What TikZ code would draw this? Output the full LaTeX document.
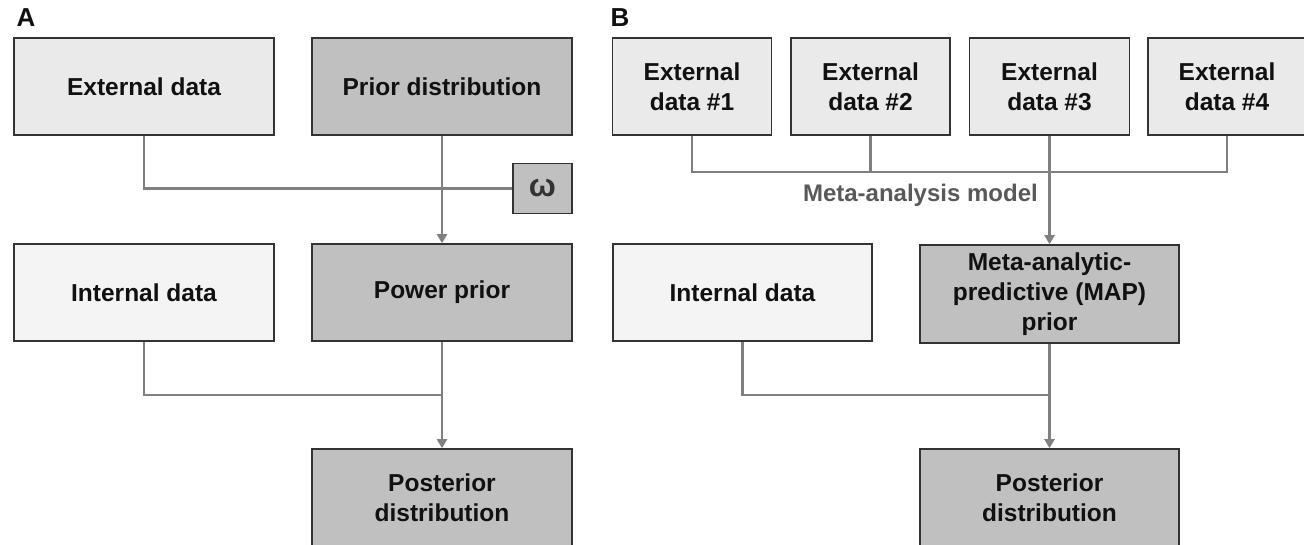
\documentclass[tikz,border=0pt]{standalone}
\usepackage{fontspec}
\setmainfont{Liberation Sans}
\usetikzlibrary{arrows.meta}
\definecolor{lightbox}{HTML}{EAEAEA}
\definecolor{darkbox}{HTML}{C0C0C0}
\definecolor{intbox}{HTML}{F4F4F4}
\definecolor{linegray}{HTML}{808080}
\definecolor{edgegray}{HTML}{333333}
\definecolor{labelgray}{HTML}{595959}
\definecolor{textblack}{HTML}{111111}
\tikzset{
  boxbase/.style={rectangle, draw=edgegray, line width=1.6pt, inner sep=0pt,
    align=center, text=textblack, font=\fontsize{24.5}{30}\selectfont\bfseries},
  extbox/.style={boxbase, fill=lightbox},
  darkbx/.style={boxbase, fill=darkbox},
  intbx/.style={boxbase, fill=intbox},
  conn/.style={draw=linegray, line width=2.8pt},
  arr/.style={conn, -{Triangle[width=10pt,length=9pt]}},
  panellabel/.style={font=\fontsize{26}{26}\selectfont\bfseries, text=textblack, inner sep=0pt}
}
\begin{document}
\begin{tikzpicture}[x=1pt,y=-1pt]
\useasboundingbox[fill=white] (0,0) rectangle (1304,545);
% Panel A
\node[panellabel] (lA) at (26,18) {A};
\node[extbox, minimum width=260pt, minimum height=97pt] (extA) at (144,86.5) {External data};
\node[darkbx, minimum width=260pt, minimum height=97pt] (priorA) at (442,86.5) {Prior distribution};
\node[darkbx, minimum width=59pt, minimum height=50pt, font=\fontsize{32}{32}\selectfont\bfseries, text=edgegray] (omega) at (542.5,188.5) {ω};
\node[intbx, minimum width=260pt, minimum height=97pt] (intA) at (144,292.5) {Internal data};
\node[darkbx, minimum width=260pt, minimum height=97pt] (powerA) at (442,292.5) {Power prior};
\node[darkbx, minimum width=260pt, minimum height=98pt] (postA) at (442,498) {Posterior\\distribution};
\coordinate (jA) at (442,395);
\draw[conn] (extA.south) |- (omega.west);
\draw[arr] (priorA.south) -- (powerA.north);
\draw[conn] (intA.south) |- (jA);
\draw[arr] (powerA.south) -- (postA.north);
% Panel B
\node[panellabel] (lB) at (620,18) {B};
\node[extbox, minimum width=159pt, minimum height=97pt] (e1) at (692,86.5) {External\\data \#1};
\node[extbox, minimum width=159pt, minimum height=97pt] (e2) at (870.5,86.5) {External\\data \#2};
\node[extbox, minimum width=160pt, minimum height=97pt] (e3) at (1049.5,86.5) {External\\data \#3};
\node[extbox, minimum width=158pt, minimum height=97pt] (e4) at (1227,86.5) {External\\data \#4};
\coordinate (hB) at (1049.5,172);
\draw[conn] (e1.south) -- (e1.south |- hB) -- (e4.south |- hB) -- (e4.south);
\draw[conn] (e2.south) -- (e2.south |- hB);
\node[anchor=east, inner sep=0pt, text=labelgray, font=\fontsize{24}{24}\selectfont\bfseries] (mam) at (1038,195) {Meta-analysis model};
\node[intbx, minimum width=259pt, minimum height=97pt] (intB) at (742.5,292.5) {Internal data};
\node[darkbx, minimum width=259pt, minimum height=98pt] (map) at (1049.5,294) {Meta-analytic-\\predictive (MAP)\\prior};
\node[darkbx, minimum width=259pt, minimum height=98pt] (postB) at (1049.5,498) {Posterior\\distribution};
\draw[arr] (e3.south) -- (map.north);
\coordinate (jB) at (1049.5,395);
\draw[conn] (intB.south) |- (jB);
\draw[arr] (map.south) -- (postB.north);
\end{tikzpicture}
\end{document}
